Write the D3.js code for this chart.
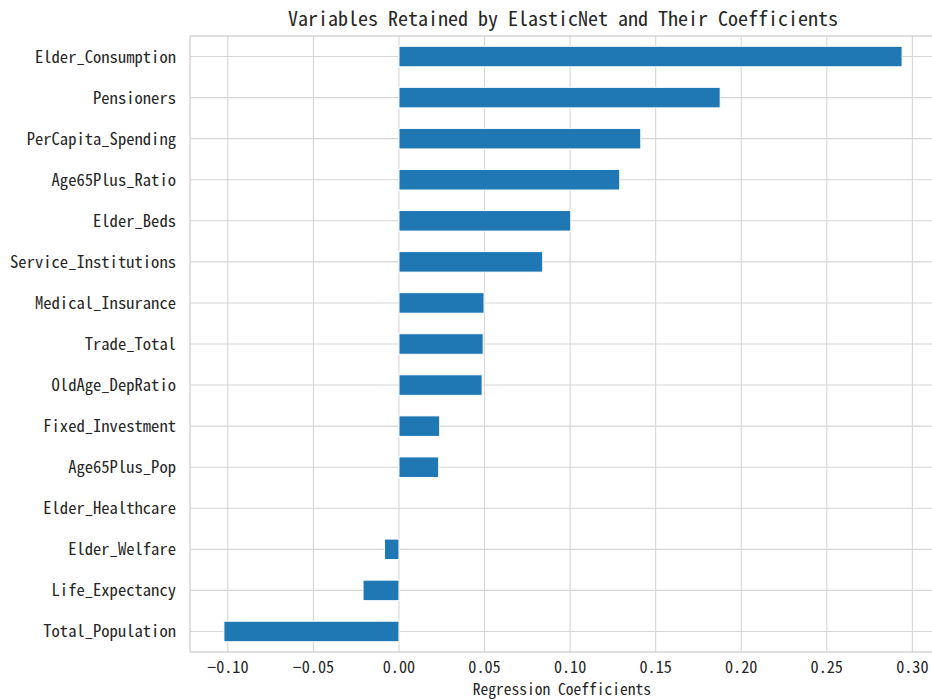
<!DOCTYPE html>
<html>
<head>
<meta charset="utf-8">
<script src="https://cdn.jsdelivr.net/npm/d3@7"></script>
<style>
  html, body { margin: 0; padding: 0; background: #fff; }
  svg text { font-family: "Noto Sans Mono CJK SC", "DejaVu Sans Mono", monospace; fill: #262626; }
</style>
</head>
<body>
<svg id="chart" width="932" height="700"></svg>
<script>
// Variables kept by the ElasticNet model, listed top to bottom
const variables = [
  "Elder_Consumption", "Pensioners", "PerCapita_Spending", "Age65Plus_Ratio",
  "Elder_Beds", "Service_Institutions", "Medical_Insurance", "Trade_Total",
  "OldAge_DepRatio", "Fixed_Investment", "Age65Plus_Pop", "Elder_Healthcare",
  "Elder_Welfare", "Life_Expectancy", "Total_Population"
];
const coefficients = [
  0.294, 0.1877, 0.1413, 0.129,
  0.1004, 0.084, 0.0497, 0.0492,
  0.0486, 0.0238, 0.0232, 0.0,
  -0.0085, -0.0210, -0.1023
];
const xTicks = [-0.10, -0.05, 0.00, 0.05, 0.10, 0.15, 0.20, 0.25, 0.30];

const titleText = "Variables Retained by ElasticNet and Their Coefficients";
const xLabel = "Regression Coefficients";

const svg = d3.select("#chart");
const plot = { left: 190, top: 36, right: 936, bottom: 652 };

// x extent padded 5% on each side of the data range
const lo = d3.min(coefficients), hi = d3.max(coefficients);
const pad = (hi - lo) * 0.05;
const x = d3.scaleLinear().domain([lo - pad, hi + pad]).range([plot.left, plot.right]);

const y = d3.scaleBand().domain(variables).range([plot.top, plot.bottom]).paddingInner(0.5).paddingOuter(0.25);

// vertical grid
svg.append("g").selectAll("line").data(xTicks).join("line")
  .attr("x1", d => x(d)).attr("x2", d => x(d))
  .attr("y1", plot.top).attr("y2", plot.bottom)
  .attr("stroke", "#d6d6d6").attr("stroke-width", 1.1);

// horizontal grid at category centers
svg.append("g").selectAll("line").data(variables).join("line")
  .attr("x1", plot.left).attr("x2", plot.right)
  .attr("y1", d => y(d) + y.bandwidth() / 2).attr("y2", d => y(d) + y.bandwidth() / 2)
  .attr("stroke", "#d6d6d6").attr("stroke-width", 1.1);

// frame
svg.append("rect")
  .attr("x", plot.left).attr("y", plot.top)
  .attr("width", plot.right - plot.left).attr("height", plot.bottom - plot.top)
  .attr("fill", "none").attr("stroke", "#cccccc").attr("stroke-width", 1.2);

// bars
svg.append("g").selectAll("rect").data(variables).join("rect")
  .attr("x", (d, i) => x(Math.min(0, coefficients[i])))
  .attr("width", (d, i) => Math.abs(x(coefficients[i]) - x(0)))
  .attr("y", d => y(d))
  .attr("height", y.bandwidth())
  .attr("fill", "#1f77b4")
  .attr("stroke", "#ffffff").attr("stroke-width", 1);

// y labels
svg.append("g").selectAll("text").data(variables).join("text")
  .attr("x", 176)
  .attr("y", d => y(d) + y.bandwidth() / 2)
  .attr("dy", "0.36em")
  .attr("text-anchor", "end")
  .attr("font-size", 16.6)
  .text(d => d);

// x tick labels
const fmt = d3.format(".2f");
svg.append("g").selectAll("text").data(xTicks).join("text")
  .attr("x", d => x(d))
  .attr("y", 672.5)
  .attr("text-anchor", "middle")
  .attr("font-size", 16.2)
  .text(d => fmt(d));

// x axis title
svg.append("text")
  .attr("x", 562)
  .attr("y", 695.2)
  .attr("text-anchor", "middle")
  .attr("font-size", 15.5)
  .text(xLabel);

// chart title
svg.append("text")
  .attr("x", 563)
  .attr("y", 26)
  .attr("text-anchor", "middle")
  .attr("font-size", 20)
  .text(titleText);
</script>
</body>
</html>
